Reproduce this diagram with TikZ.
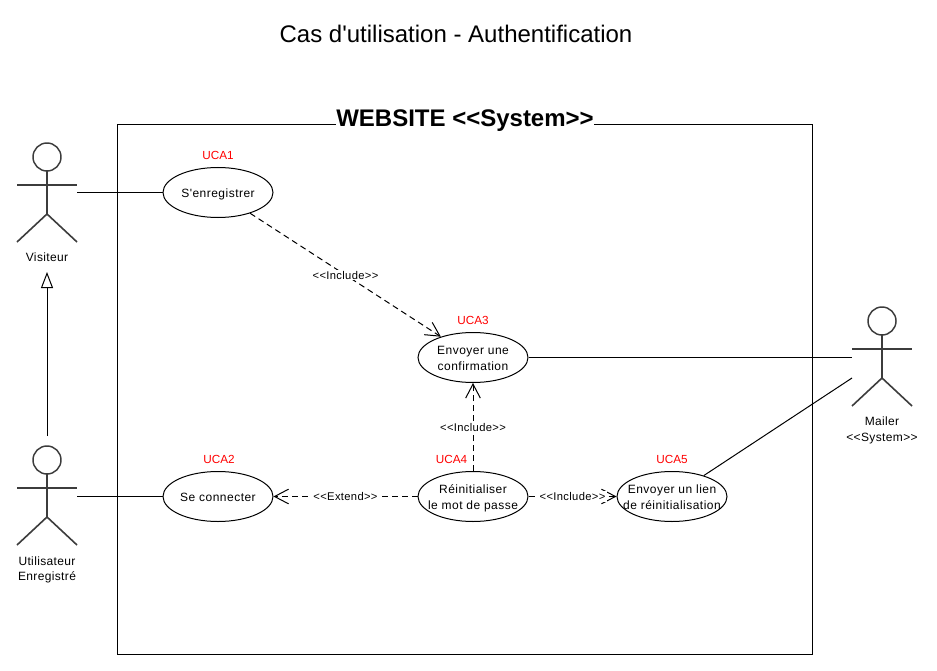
\documentclass[tikz,border=0pt]{standalone}
\usepackage{fontspec}
\setmainfont{Liberation Sans}[Ligatures=TeXOff]
\usetikzlibrary{arrows.meta,shapes.geometric}
\definecolor{ucared}{RGB}{255,0,0}
\definecolor{actorgray}{RGB}{60,60,60}
\tikzset{
	usecase/.style={draw, ellipse, fill=white, line width=0.75pt, minimum width=82.5pt, minimum height=37.5pt, inner sep=0pt, align=center, font=\fontsize{9}{11.5}\selectfont\addfontfeature{LetterSpace=4}},
	ucalabel/.style={text=ucared, inner sep=0pt, font=\fontsize{8.8}{11}\selectfont},
	smalltext/.style={inner sep=0pt, align=center, font=\fontsize{9}{11.5}\selectfont\addfontfeature{LetterSpace=3}},
	deplabel/.style={fill=white, inner sep=1pt, font=\fontsize{8.4}{10}\selectfont\addfontfeature{LetterSpace=3}},
	dep/.style={dashed, dash pattern=on 4.5pt off 3pt, line width=0.75pt, -{Straight Barb[length=10.5pt,width=11pt,line width=0.75pt]}},
	assoc/.style={line width=0.75pt},
	generalize/.style={line width=0.75pt, -{Triangle[open,length=12pt,width=9pt,line width=0.75pt]}}
}
% stick figure, (#1) = position of the head
\def\actorfig(#1,#2){
	\draw[actorgray, line width=1.1pt] (#1,#2) circle (14);
	\draw[actorgray, line width=1.5pt] (#1,#2+14) -- (#1,#2+57);
	\draw[actorgray, line width=1.2pt] (#1-30,#2+28) -- (#1+30,#2+28);
	\draw[actorgray, line width=1.2pt] (#1-30,#2+85) -- (#1,#2+57) -- (#1+30,#2+85);
}
% text of a use case, must not make the ellipse grow
\def\casetext#1{\smash{\makebox[0pt]{\raisebox{-0.42em}{\begin{tabular}{@{}c@{}}#1\end{tabular}}}}}

\begin{document}
\begin{tikzpicture}[x=0.75pt,y=-0.75pt]
	\useasboundingbox[fill=white] (0,0) rectangle (937,670);

	\node[inner sep=0pt, font=\fontsize{18}{22}\selectfont] (title) at (456,34) {Cas d'utilisation - Authentification};

	\node[draw, line width=0.75pt, minimum width=521.25pt, minimum height=397.5pt, inner sep=0pt] (system) at (464.5,389.5) {};
	\node[fill=white, inner sep=0.3pt, font=\fontsize{18}{22}\selectfont\bfseries] (systemtitle) at (465,121) {WEBSITE <<System>>};

	\actorfig(47,157)
	\actorfig(47,460)
	\actorfig(882,321)

	\node[smalltext] (visiteur) at (47,257.5) {Visiteur};
	\node[smalltext] (utilisateur) at (47,570) {Utilisateur\\Enregistré};
	\node[smalltext] (mailer) at (882,430.5) {Mailer\\<<System>>};

	\coordinate (visiteurE) at (77,192.5);
	\coordinate (visiteurS) at (47,272);
	\coordinate (utilisateurE) at (77,496.5);
	\coordinate (utilisateurN) at (47,436);
	\coordinate (mailerA) at (852,357);
	\coordinate (mailerB) at (852,378);

	\node[usecase] (enregistrer) at (218,192.5) {\casetext{S'enregistrer}};
	\node[usecase] (connecter) at (218,496.5) {\casetext{Se connecter}};
	\node[usecase] (confirmation) at (473,357.5) {\casetext{Envoyer une\\confirmation}};
	\node[usecase] (reinit) at (473,496.5) {\casetext{Réinitialiser\\le mot de passe}};
	\node[usecase] (lien) at (672,496.5) {\casetext{Envoyer un lien\\de réinitialisation}};

	\node[ucalabel] (uca1) at (218,155) {UCA1};
	\node[ucalabel] (uca2) at (219,459) {UCA2};
	\node[ucalabel] (uca3) at (473,320) {UCA3};
	\node[ucalabel] (uca4) at (451.5,459) {UCA4};
	\node[ucalabel] (uca5) at (672,459) {UCA5};

	\draw[assoc] (visiteurE) -- (enregistrer);
	\draw[assoc] (utilisateurE) -- (connecter);
	\draw[assoc] (confirmation) -- (confirmation -| mailerA);
	\draw[assoc] (lien) -- (mailerB);
	\draw[generalize] (utilisateurN) -- (visiteurS);

	\draw[dep] (enregistrer) -- node[deplabel] {<<Include>>} (confirmation);
	\draw[dep] (reinit) -- node[deplabel, pos=0.5] {<<Include>>} (confirmation);
	\draw[dep] (reinit) -- node[deplabel] {<<Extend>>} (connecter);
	\draw[dep] (reinit) -- node[deplabel] {<<Include>>} (lien);
\end{tikzpicture}
\end{document}
